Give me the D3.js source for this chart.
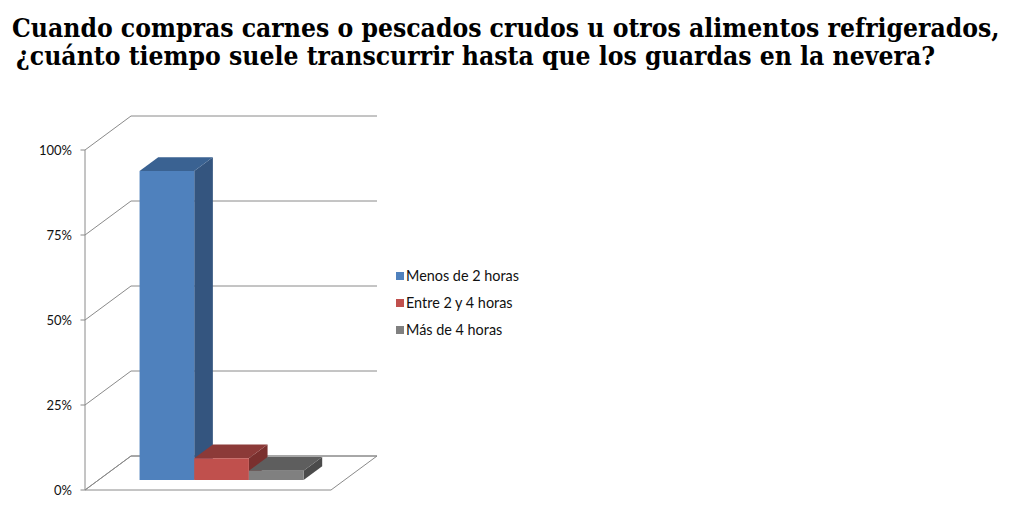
<!DOCTYPE html>
<html><head><meta charset="utf-8">
<script src="https://cdn.jsdelivr.net/npm/d3@7"></script>
<style>body{margin:0;background:#fff} svg{display:block}</style>
</head><body><svg id="c" width="1024" height="525"></svg>
<script>
const titleLines = ["Cuando compras carnes o pescados crudos u otros alimentos refrigerados,", "¿cuánto tiempo suele transcurrir hasta que los guardas en la nevera?"];
const categories = ["Total"];
const series = ["Menos de 2 horas", "Entre 2 y 4 horas", "Más de 4 horas"];
const values = [90.9, 6.4, 2.7];
const yTicks = [0, 25, 50, 75, 100];
const tickLabels = ["0%", "25%", "50%", "75%", "100%"];

const faceColors = [
  {front:"#4F81BD", top:"#3A6292", side:"#34557F"},
  {front:"#C0504D", top:"#8C3A38", side:"#7A302E"},
  {front:"#808080", top:"#5E5E5E", side:"#4B4B4B"}
];

const svg = d3.select("#c");
const sans = "Lato, 'Open Sans', sans-serif";

function fit(sel, target){
  const n = sel.node(); const s0 = parseFloat(sel.attr("font-size"));
  const w = n.getComputedTextLength();
  const s = s0 * target / w; sel.attr("font-size", s); return s;
}

// Title
const tf = "'DejaVu Serif Condensed', 'DejaVu Serif', serif";
const t1 = svg.append("text").attr("x", 12).attr("y", 37)
  .attr("font-family", tf).attr("font-weight", "bold")
  .attr("font-size", 24).attr("fill", "#000").text(titleLines[0]);
const ts = fit(t1, 988);
svg.append("text").attr("x", 16).attr("y", 65)
  .attr("font-family", tf).attr("font-weight", "bold")
  .attr("font-size", ts).attr("fill", "#000").text(titleLines[1]);

// 3D geometry
const DX = 46, DY = -34;
const f0 = 0.295, f1 = 0.70;
const y = d3.scaleLinear().domain([0, 100]).range([490, 150]);
const xCat = d3.scaleBand().domain(categories).range([85, 331]).paddingInner(0).paddingOuter(0.25);
const xSer = d3.scaleBand().domain(series).range([0, xCat.bandwidth()]).padding(0);
const P = (x, v, f) => [x + f * DX, y(v) + f * DY];
const poly = pts => pts.map(p => p.join(",")).join(" ");

const grid = "#8a8a8a";
yTicks.forEach(t => {
  svg.append("polyline").attr("points", poly([P(85, t, 0), P(85, t, 1), P(331, t, 1)]))
    .attr("fill", "none").attr("stroke", grid).attr("stroke-width", 1);
});
svg.append("polygon").attr("points", poly([P(85, 0, 0), P(331, 0, 0), P(331, 0, 1), P(85, 0, 1)]))
  .attr("fill", "none").attr("stroke", grid).attr("stroke-width", 1);
svg.append("line").attr("x1", 85).attr("x2", 85).attr("y1", y(0)).attr("y2", y(100))
  .attr("stroke", grid).attr("stroke-width", 1);
yTicks.forEach((t, i) => {
  svg.append("line").attr("x1", 80.5).attr("x2", 85).attr("y1", y(t)).attr("y2", y(t))
    .attr("stroke", grid).attr("stroke-width", 1);
  svg.append("text").attr("x", 72).attr("y", y(t)).attr("dy", "0.35em")
    .attr("text-anchor", "end").attr("font-family", sans).attr("font-size", 13)
    .attr("fill", "#111").text(tickLabels[i]);
});

// bars
series.forEach((s, i) => {
  const x0 = xCat(categories[0]) + xSer(s), x1 = x0 + xSer.bandwidth();
  const v = values[i], c = faceColors[i];
  const g = svg.append("g");
  g.append("polygon").attr("points", poly([P(x1, 0, f0), P(x1, 0, f1), P(x1, v, f1), P(x1, v, f0)])).attr("fill", c.side);
  g.append("polygon").attr("points", poly([P(x0, v, f0), P(x1, v, f0), P(x1, v, f1), P(x0, v, f1)])).attr("fill", c.top);
  g.append("polygon").attr("points", poly([P(x0, 0, f0), P(x1, 0, f0), P(x1, v, f0), P(x0, v, f0)])).attr("fill", c.front);
});

// legend
const legY = [276, 303, 330];
let legFs = null;
series.forEach((s, i) => {
  svg.append("rect").attr("x", 396).attr("y", legY[i] - 4).attr("width", 8).attr("height", 8)
    .attr("fill", faceColors[i].front);
  const tx = svg.append("text").attr("class", "leg").attr("x", 406).attr("y", legY[i]).attr("dy", "0.35em")
    .attr("font-family", sans).attr("font-size", 14).attr("fill", "#111").text(s);
  if (i === 0) legFs = fit(tx, 113);
});
svg.selectAll("text.leg").attr("font-size", legFs);
</script></body></html>
